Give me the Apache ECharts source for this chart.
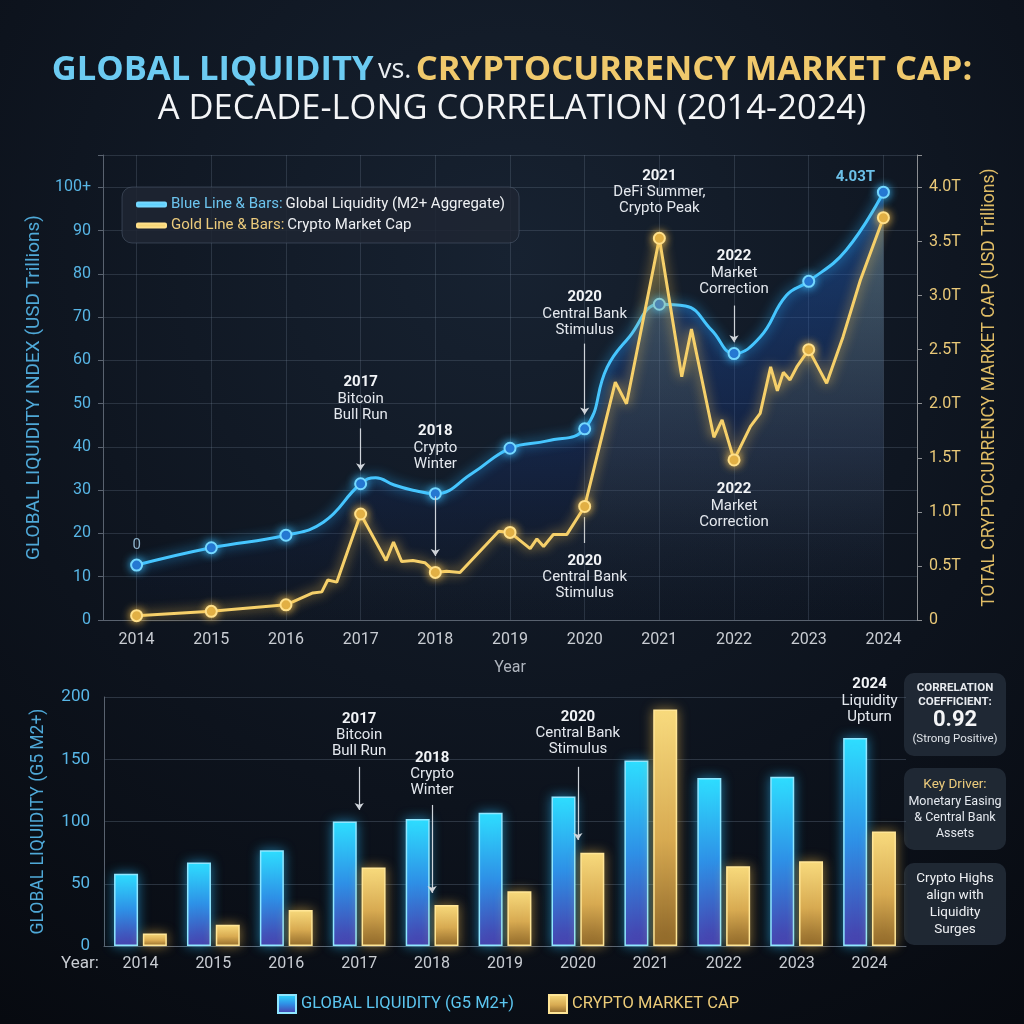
<!DOCTYPE html>
<html>
<head>
<meta charset="utf-8">
<script src="https://cdn.jsdelivr.net/npm/echarts@6/dist/echarts.min.js"></script>
<style>
html, body { margin: 0; background: #0a0f17; }
#chart { width: 1024px; height: 1024px; }
</style>
</head>
<body>
<div id="chart"></div>
<script>
// ---- data ----
var years = ['2014', '2015', '2016', '2017', '2018', '2019', '2020', '2021', '2022', '2023', '2024'];
var yearNums = [2014, 2015, 2016, 2017, 2018, 2019, 2020, 2021, 2022, 2023, 2024];

// top chart: global liquidity index (left axis)
var liqX = [2014, 2015, 2016, 2016.5, 2017, 2017.2, 2017.45, 2017.7, 2018, 2018.5, 2019, 2019.5, 2020,
    2020.3, 2020.6, 2021, 2021.35, 2021.7, 2022, 2022.35, 2022.7, 2023, 2023.5, 2024];
var liqY = [12.7, 16.7, 19.6, 22.6, 31.5, 32.9, 31.2, 30.0, 29.2, 34, 39.7, 41.4, 44.2,
    58.4, 65.5, 73, 72.6, 67, 61.6, 65.4, 75, 78.3, 85.5, 98.9];

// top chart: crypto market cap in T (right axis)
var capX = [2014, 2015, 2016, 2016.36, 2016.48, 2016.56, 2016.68, 2017, 2017.34, 2017.44, 2017.55, 2017.7, 2017.86, 2018, 2018.15,
    2018.33, 2018.85, 2019, 2019.27, 2019.36, 2019.45, 2019.58, 2019.76, 2020, 2020.41, 2020.56, 2021, 2021.3, 2021.43, 2021.73,
    2021.84, 2022, 2022.22, 2022.35, 2022.49, 2022.58, 2022.66, 2022.75, 2022.84, 2023, 2023.24, 2023.46, 2023.69, 2024];
var capY = [0.04, 0.08, 0.14, 0.25, 0.26, 0.37, 0.35, 0.98, 0.55, 0.72, 0.54, 0.55, 0.53, 0.44, 0.45,
    0.44, 0.82, 0.81, 0.66, 0.75, 0.68, 0.79, 0.79, 1.05, 2.2, 2.0, 3.53, 2.25, 2.69, 1.69,
    1.85, 1.48, 1.79, 1.91, 2.34, 2.12, 2.29, 2.22, 2.34, 2.5, 2.19, 2.62, 3.14, 3.72];

// bottom chart bars
var liqBars = [58, 67, 77, 100, 102, 107, 120, 149, 135, 136, 167];
var capBars = [10, 17, 29, 63, 33, 44, 75, 190, 64, 68, 92];

// annotations (placed in axis units)
var topNotes = [
    { x: 2017, y: 51.2, year: '2017', lines: ['Bitcoin', 'Bull Run'] },
    { x: 2018, y: 39.9, year: '2018', lines: ['Crypto', 'Winter'] },
    { x: 2020, y: 70.8, year: '2020', lines: ['Central Bank', 'Stimulus'] },
    { x: 2020, y: 9.9, year: '2020', lines: ['Central Bank', 'Stimulus'] },
    { x: 2021, y: 99, year: '2021', lines: ['DeFi Summer,', 'Crypto Peak'] },
    { x: 2022, y: 80.3, year: '2022', lines: ['Market', 'Correction'] },
    { x: 2022, y: 26.5, year: '2022', lines: ['Market', 'Correction'] }
];
var topArrows = [
    { x: 2017, from: 44.3, to: 34.6, head: true },
    { x: 2018, from: 28.6, to: 14.8, head: true },
    { x: 2020, from: 63.9, to: 47.5, head: true },
    { x: 2020, from: 23.8, to: 17.8, head: false },
    { x: 2022, from: 72.7, to: 64.2, head: true }
];
var bottomNotes = [
    { x: '2017', y: 169.6, year: '2017', lines: ['Bitcoin', 'Bull Run'] },
    { x: '2018', y: 138.3, year: '2018', lines: ['Crypto', 'Winter'] },
    { x: '2020', y: 171.2, year: '2020', lines: ['Central Bank', 'Stimulus'] },
    { x: '2024', y: 197, year: '2024', lines: ['Liquidity', 'Upturn'] }
];
var bottomArrows = [
    { x: '2017', from: 143.9, to: 109.3 },
    { x: '2018', from: 113.3, to: 42.6 },
    { x: '2020', from: 143.9, to: 85.2 }
];

var BLUE = '#46c6ff';
var GOLD = '#f6d06a';
var FONT = 'Roboto';

var noteRich = {
    y: { fontFamily: FONT, fontWeight: 'bold', fontSize: 15, color: '#f2f4f7', lineHeight: 17 },
    t: { fontFamily: FONT, fontSize: 15, color: '#e4e8ee', lineHeight: 16 }
};

function noteData(list) {
    return list.map(function (n) {
        return {
            coord: [n.x, n.y],
            label: {
                formatter: '{y|' + n.year + '}\n' + n.lines.map(function (l) { return '{t|' + l + '}'; }).join('\n')
            }
        };
    });
}

var topMarks = noteData(topNotes);
topMarks.push({ coord: [2024, 102.3], label: { formatter: '{v|4.03T}', offset: [-28, 0] } });
topMarks.push({ coord: [2014, 17.3], label: { formatter: '{z|0}' } });

var arrowLine = {
    silent: true,
    symbol: ['none', 'arrow'],
    symbolSize: 7,
    label: { show: false },
    lineStyle: { color: '#cfd4da', width: 1.2, type: 'solid' }
};

var chart = echarts.init(document.getElementById('chart'));

var option = {
    animation: false,
    backgroundColor: {
        type: 'radial', x: 0.5, y: 0.25, r: 0.9,
        colorStops: [{ offset: 0, color: '#172231' }, { offset: 0.6, color: '#0d131d' }, { offset: 1, color: '#070a10' }]
    },
    textStyle: { fontFamily: FONT },
    title: {
        left: 'center',
        top: 48,
        itemGap: 4,
        text: '{b|GLOBAL LIQUIDITY} {v|vs.} {g|CRYPTOCURRENCY MARKET CAP:}',
        subtext: 'A DECADE-LONG CORRELATION (2014-2024)',
        textStyle: {
            rich: {
                b: { fontFamily: 'Open Sans', fontWeight: 'bold', fontSize: 34.5, color: '#6ccbf2' },
                v: { fontFamily: 'Open Sans', fontWeight: 'normal', fontSize: 27, color: '#e8ecf0' },
                g: { fontFamily: 'Open Sans', fontWeight: 'bold', fontSize: 34.5, color: '#f0c96c' }
            }
        },
        subtextStyle: { fontFamily: 'Open Sans', fontSize: 34.5, color: '#f4f5f7' }
    },
    legend: [{
        orient: 'vertical',
        left: 122,
        top: 187,
        padding: [10, 14, 10, 14],
        itemGap: 6,
        itemWidth: 29,
        itemHeight: 4,
        icon: 'roundRect',
        backgroundColor: 'rgba(30,38,50,0.85)',
        borderColor: 'rgba(90,105,125,0.45)',
        borderWidth: 1,
        borderRadius: 10,
        data: [
            { name: 'Global Liquidity', itemStyle: { color: '#5fd2ff' } },
            { name: 'Crypto Market Cap', itemStyle: { color: '#f7d776' } }
        ],
        formatter: function (name) {
            return name === 'Global Liquidity'
                ? '{a|Blue Line & Bars:} {w|Global Liquidity (M2+ Aggregate)}'
                : '{g|Gold Line & Bars:} {w|Crypto Market Cap}';
        },
        textStyle: {
            rich: {
                a: { fontFamily: FONT, fontSize: 15, color: '#6cc4ee' },
                g: { fontFamily: FONT, fontSize: 15, color: '#eccb7c' },
                w: { fontFamily: FONT, fontSize: 15, color: '#eef0f3' }
            }
        }
    }, {
        left: 272,
        top: 989,
        itemGap: 34,
        itemWidth: 18,
        itemHeight: 18,
        icon: 'rect',
        data: [
            { name: 'GLOBAL LIQUIDITY (G5 M2+)', textStyle: { color: '#5cc6f0' } },
            { name: 'CRYPTO MARKET CAP', textStyle: { color: '#eccb78' } }
        ],
        textStyle: { fontFamily: FONT, fontSize: 16.5 }
    }],
    grid: [
        { left: 103, right: 107, top: 155, bottom: 404 },
        { left: 104, right: 118, top: 697, bottom: 78 }
    ],
    xAxis: [{
        type: 'value',
        gridIndex: 0,
        min: 2013.55,
        max: 2024.45,
        name: 'Year',
        nameLocation: 'middle',
        nameGap: 40,
        nameTextStyle: { color: '#aeb4bd', fontSize: 16 },
        axisLine: { lineStyle: { color: '#59626f' } },
        axisTick: { show: false, customValues: yearNums },
        axisLabel: {
            customValues: yearNums, color: '#c9cdd3', fontSize: 16, margin: 12,
            formatter: function (v) { return String(v); }
        },
        splitLine: { show: true, lineStyle: { color: 'rgba(120,135,155,0.25)' } }
    }, {
        type: 'category',
        gridIndex: 1,
        data: years,
        axisLine: { lineStyle: { color: '#59626f' } },
        axisTick: { show: false },
        axisLabel: { color: '#c9cdd3', fontSize: 16, margin: 10 }
    }],
    yAxis: [{
        type: 'value',
        gridIndex: 0,
        min: 0,
        max: 107.5,
        interval: 10,
        name: 'GLOBAL LIQUIDITY INDEX (USD Trillions)',
        nameLocation: 'middle',
        nameRotate: 90,
        nameGap: 54,
        nameTextStyle: { color: '#4fa9d8', fontSize: 19 },
        axisLine: { show: true, lineStyle: { color: '#59626f' } },
        axisLabel: {
            color: '#58b6e6', fontSize: 16, margin: 12,
            formatter: function (v) { return v % 10 !== 0 ? '' : (v === 100 ? '100+' : String(v)); }
        },
        splitLine: { lineStyle: { color: 'rgba(120,135,155,0.25)' } }
    }, {
        type: 'value',
        gridIndex: 0,
        position: 'right',
        min: 0,
        max: 4.3,
        interval: 0.5,
        name: 'TOTAL CRYPTOCURRENCY MARKET CAP (USD Trillions)',
        nameLocation: 'middle',
        nameRotate: 90,
        nameGap: 64,
        nameTextStyle: { color: '#e0bd66', fontSize: 17.5 },
        axisLine: { show: true, lineStyle: { color: '#8c8f93' } },
        axisLabel: {
            color: '#eac978', fontSize: 16, margin: 12,
            formatter: function (v) {
                var k = Math.round(v * 10);
                if (k % 5 !== 0) return '';
                return v === 0 ? '0' : v.toFixed(1) + 'T';
            }
        },
        splitLine: { show: false }
    }, {
        type: 'value',
        gridIndex: 1,
        min: 0,
        max: 200,
        interval: 50,
        name: 'GLOBAL LIQUIDITY (G5 M2+)',
        nameLocation: 'middle',
        nameRotate: 90,
        nameGap: 56,
        nameTextStyle: { color: '#4fa9d8', fontSize: 17.5 },
        axisLine: { show: true, lineStyle: { color: '#59626f' } },
        axisLabel: { color: '#58b6e6', fontSize: 17, margin: 14 },
        splitLine: { lineStyle: { color: 'rgba(120,135,155,0.3)' } }
    }],
    series: [{
        name: 'Global Liquidity',
        type: 'line',
        xAxisIndex: 0,
        yAxisIndex: 0,
        data: liqX.map(function (x, i) { return [x, liqY[i]]; }),
        smooth: 0.45,
        symbol: 'circle',
        symbolSize: function (v) { return Number.isInteger(v[0]) ? 11 : 0; },
        z: 4,
        lineStyle: { color: BLUE, width: 3, shadowBlur: 12, shadowColor: 'rgba(40,180,255,0.9)' },
        itemStyle: { color: '#1f63c4', borderColor: '#74d8ff', borderWidth: 2, shadowBlur: 8, shadowColor: 'rgba(60,190,255,0.9)' },
        areaStyle: {
            color: {
                type: 'linear', x: 0, y: 0, x2: 0, y2: 1,
                colorStops: [{ offset: 0, color: 'rgba(40,120,230,0.6)' }, { offset: 0.6, color: 'rgba(25,60,150,0.35)' }, { offset: 1, color: 'rgba(15,30,70,0.05)' }]
            }
        },
        markPoint: {
            symbol: 'circle',
            symbolSize: 1,
            itemStyle: { color: 'rgba(0,0,0,0)' },
            silent: true,
            label: {
                show: true,
                position: 'inside',
                rich: Object.assign({
                    v: { fontFamily: FONT, fontWeight: 'bold', fontSize: 15, color: '#6cc0e8' },
                    z: { fontFamily: FONT, fontSize: 15, color: '#8fb4cc' }
                }, noteRich)
            },
            data: topMarks
        },
        markLine: Object.assign({
            data: topArrows.map(function (a) {
                return [{ coord: [a.x, a.from], symbol: 'none' }, { coord: [a.x, a.to], symbol: a.head ? 'arrow' : 'none' }];
            })
        }, arrowLine)
    }, {
        name: 'Crypto Market Cap',
        type: 'line',
        xAxisIndex: 0,
        yAxisIndex: 1,
        data: capX.map(function (x, i) { return [x, capY[i]]; }),
        symbol: 'circle',
        symbolSize: function (v) { return Number.isInteger(v[0]) ? 11 : 0; },
        z: 5,
        lineStyle: { color: GOLD, width: 3, shadowBlur: 12, shadowColor: 'rgba(255,200,80,0.85)' },
        itemStyle: { color: '#d9a942', borderColor: '#ffe08a', borderWidth: 2, shadowBlur: 8, shadowColor: 'rgba(255,200,80,0.9)' },
        areaStyle: {
            color: {
                type: 'linear', x: 0, y: 0, x2: 0, y2: 1,
                colorStops: [{ offset: 0, color: 'rgba(200,190,110,0.4)' }, { offset: 0.7, color: 'rgba(120,120,80,0.15)' }, { offset: 1, color: 'rgba(60,60,40,0)' }]
            }
        }
    }, {
        name: 'GLOBAL LIQUIDITY (G5 M2+)',
        type: 'bar',
        xAxisIndex: 1,
        yAxisIndex: 2,
        data: liqBars,
        barWidth: 24,
        barGap: '20%',
        itemStyle: {
            color: {
                type: 'linear', x: 0, y: 0, x2: 0, y2: 1,
                colorStops: [{ offset: 0, color: '#2fe0ff' }, { offset: 0.5, color: '#2f8fe6' }, { offset: 1, color: '#4a3aa8' }]
            },
            borderColor: '#8fe6ff',
            borderWidth: 1.5,
            shadowBlur: 12,
            shadowColor: 'rgba(40,190,255,0.55)'
        }
    }, {
        name: 'CRYPTO MARKET CAP',
        type: 'bar',
        xAxisIndex: 1,
        yAxisIndex: 2,
        data: capBars,
        barWidth: 24,
        itemStyle: {
            color: {
                type: 'linear', x: 0, y: 0, x2: 0, y2: 1,
                colorStops: [{ offset: 0, color: '#f8dc80' }, { offset: 0.55, color: '#d7aa52' }, { offset: 1, color: '#8a6428' }]
            },
            borderColor: '#ffe596',
            borderWidth: 1.5,
            shadowBlur: 12,
            shadowColor: 'rgba(255,200,80,0.5)'
        }
    }, {
        // invisible carrier so the notes sit on the category centres
        name: 'notes',
        type: 'line',
        xAxisIndex: 1,
        yAxisIndex: 2,
        data: liqBars,
        symbol: 'none',
        silent: true,
        z: 6,
        lineStyle: { opacity: 0 },
        markPoint: {
            symbol: 'circle',
            symbolSize: 1,
            itemStyle: { color: 'rgba(0,0,0,0)' },
            silent: true,
            label: { show: true, position: 'inside', rich: noteRich },
            data: noteData(bottomNotes)
        },
        markLine: Object.assign({
            data: bottomArrows.map(function (a) {
                return [{ coord: [a.x, a.from] }, { coord: [a.x, a.to] }];
            })
        }, arrowLine)
    }],
    graphic: [
        { type: 'text', left: 61, top: 955, style: { text: 'Year:', fill: '#c9cdd3', font: '17px Roboto' } },
        {
            type: 'group', left: 904, top: 673,
            children: [
                { type: 'rect', shape: { x: 0, y: 0, width: 102, height: 83, r: 10 }, style: { fill: 'rgba(34,42,54,0.92)' } },
                {
                    type: 'text', x: 51, y: 41,
                    style: {
                        text: '{s|CORRELATION}\n{s|COEFFICIENT:}\n{n|0.92}\n{p|(Strong Positive)}',
                        align: 'center', verticalAlign: 'middle',
                        rich: {
                            s: { fontFamily: FONT, fontWeight: 'bold', fontSize: 11.5, fill: '#e8ebef', lineHeight: 14, align: 'center' },
                            n: { fontFamily: FONT, fontWeight: 'bold', fontSize: 22, fill: '#f4f5f7', lineHeight: 22, align: 'center' },
                            p: { fontFamily: FONT, fontSize: 11.5, fill: '#dfe3e8', lineHeight: 15, align: 'center' }
                        }
                    }
                }
            ]
        },
        {
            type: 'group', left: 904, top: 768,
            children: [
                { type: 'rect', shape: { x: 0, y: 0, width: 102, height: 82, r: 10 }, style: { fill: 'rgba(34,42,54,0.92)' } },
                {
                    type: 'text', x: 51, y: 41,
                    style: {
                        text: '{k|Key Driver:}\n{t|Monetary Easing}\n{t|& Central Bank}\n{t|Assets}',
                        align: 'center', verticalAlign: 'middle',
                        rich: {
                            k: { fontFamily: FONT, fontSize: 13.5, fill: '#eccb7c', lineHeight: 17, align: 'center' },
                            t: { fontFamily: FONT, fontSize: 12.5, fill: '#e4e8ee', lineHeight: 16, align: 'center' }
                        }
                    }
                }
            ]
        },
        {
            type: 'group', left: 904, top: 863,
            children: [
                { type: 'rect', shape: { x: 0, y: 0, width: 102, height: 82, r: 10 }, style: { fill: 'rgba(34,42,54,0.92)' } },
                {
                    type: 'text', x: 51, y: 41,
                    style: {
                        text: 'Crypto Highs\nalign with\nLiquidity\nSurges',
                        align: 'center', verticalAlign: 'middle',
                        font: '13.5px Roboto', fill: '#eef0f3', lineHeight: 17
                    }
                }
            ]
        }
    ]
};

chart.setOption(option);
</script>
</body>
</html>
